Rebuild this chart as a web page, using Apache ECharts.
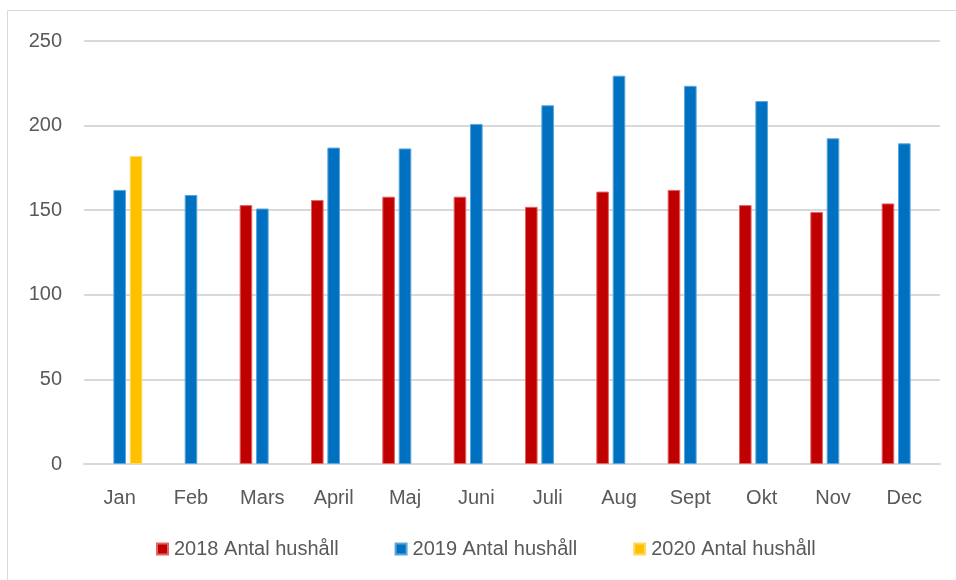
<!DOCTYPE html>
<html>
<head>
<meta charset="utf-8">
<script src="https://cdn.jsdelivr.net/npm/echarts@6/dist/echarts.min.js"></script>
<style>html,body{margin:0;padding:0;background:#fff}#c{width:956px;height:580px}</style>
</head>
<body>
<div id="c"></div>
<script>
var months = ['Jan','Feb','Mars','April','Maj','Juni','Juli','Aug','Sept','Okt','Nov','Dec'];
var s2018 = [null, null, 153, 156, 158, 158, 152, 161, 162, 153, 149, 154];
var s2019 = [162, 159, 151, 187, 186.5, 201, 212, 229.5, 223.5, 214.5, 192.5, 189.5];
var s2020 = [182, null, null, null, null, null, null, null, null, null, null, null];
var names = ['2018 Antal hushåll','2019 Antal hushåll','2020 Antal hushåll'];
var yTicks = [0, 50, 100, 150, 200, 250];

var FONT = '"Liberation Sans", Arial, sans-serif';
var chart = echarts.init(document.getElementById('c'), null, {renderer:'canvas'});
function ser(name, data, color, border){
  return {name:name, type:'bar', data:data, barWidth:12.6, barGap:'30%',
    itemStyle:{color:color, borderColor:border, borderWidth:1}};
}
chart.setOption({
  animation:false,
  backgroundColor:'#fff',
  textStyle:{fontFamily:FONT},
  graphic:[{type:'rect', shape:{x:7.5,y:10.5,width:1000,height:600}, style:{fill:null, stroke:'#d9d9d9', lineWidth:1}, silent:true, z:-1}],
  grid:{left:84, right:16, top:41, bottom:116, containLabel:false},
  legend:{top:534, left:151, itemWidth:11, itemHeight:11, itemGap:56, icon:'rect',
    textStyle:{color:'#595959', fontSize:20, fontFamily:FONT, padding:[0,0,0,1]}, data:names},
  xAxis:{type:'category', data:months,
    axisLine:{lineStyle:{color:'#d9d9d9', width:2}}, axisTick:{show:false},
    axisLabel:{color:'#595959', fontSize:20, margin:24, fontFamily:FONT}},
  yAxis:{type:'value', min:yTicks[0], max:yTicks[yTicks.length-1], interval:50,
    axisLine:{show:false}, axisTick:{show:false},
    splitLine:{lineStyle:{color:'#d9d9d9', width:2}},
    axisLabel:{color:'#595959', fontSize:20, margin:22, fontFamily:FONT}},
  series:[
    ser(names[0], s2018, '#C00000', '#e06666'),
    ser(names[1], s2019, '#0070C0', '#5aa6dc'),
    ser(names[2], s2020, '#FFC000', '#ffd966')
  ]
});
</script>
</body>
</html>
